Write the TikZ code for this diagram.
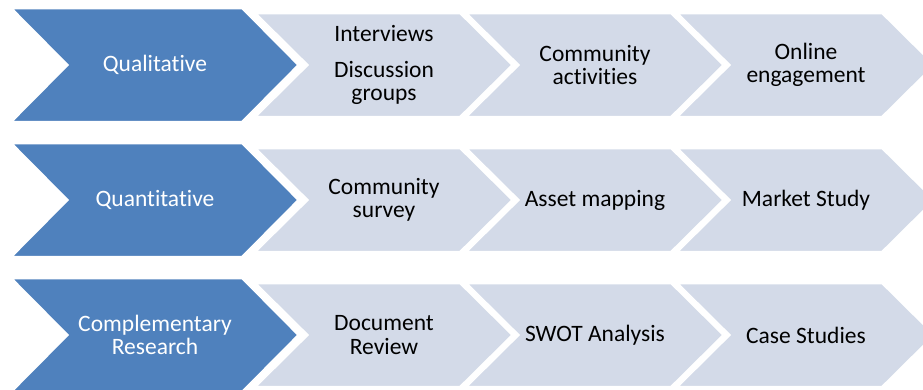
\documentclass[tikz,border=0pt]{standalone}
\usepackage{fontspec}
\setmainfont{Carlito}[Ligatures=CommonOff]
\usetikzlibrary{calc}
\definecolor{headblue}{HTML}{4F81BD}
\definecolor{itemgray}{HTML}{D3DAE8}

\begin{document}
\begin{tikzpicture}[x=1pt,y=-1pt]
            \tikzstyle{head}=[fill=headblue, draw=white, line width=1.5pt]
            \tikzstyle{item}=[fill=itemgray, draw=white, line width=1.5pt]
            \tikzstyle{lbl}=[align=center, inner sep=0pt,
            font=\fontsize{23.5}{23.5}\selectfont]
            \clip (0,0) rectangle (923,389);

            % rows: big chevrons
            \foreach \cy in {65,200,335}
                \draw[head] (12,\cy-56.5) -- (242,\cy-56.5) -- (298,\cy)
                    -- (242,\cy+56.5) -- (12,\cy+56.5) -- (68,\cy) -- cycle;

            % rows: small chevrons
            \foreach \cy in {65,200,335}
                \foreach \x in {256,467,678}
                    \draw[item] (\x,\cy-51.5) -- ++(204,0) -- ++(52,51.5)
                        -- ++(-52,51.5) -- ++(-204,0) -- ++(52,-51.5) -- cycle;

            \node[lbl, text=white] (qual) at (155,65) {Qualitative};
            \node[lbl] (interv) at (384,65) {Interviews\\[12.5pt]Discussion\\groups};
            \node[lbl] (commact) at (595,65) {Community\\activities};
            \node[lbl] (online) at (806,65) {Online\\engagement};

            \node[lbl, text=white] (quant) at (155,200) {Quantitative};
            \node[lbl] (survey) at (384,200) {Community\\survey};
            \node[lbl] (asset) at (595,200) {Asset mapping};
            \node[lbl] (market) at (806,200) {Market Study};

            \node[lbl, text=white] (compl) at (155,335) {Complementary\\Research};
            \node[lbl] (docrev) at (384,335) {Document\\Review};
            \node[lbl] (swot) at (595,335) {SWOT Analysis};
            \node[lbl] (cases) at (806,335) {Case Studies};
        \end{tikzpicture}
\end{document}
